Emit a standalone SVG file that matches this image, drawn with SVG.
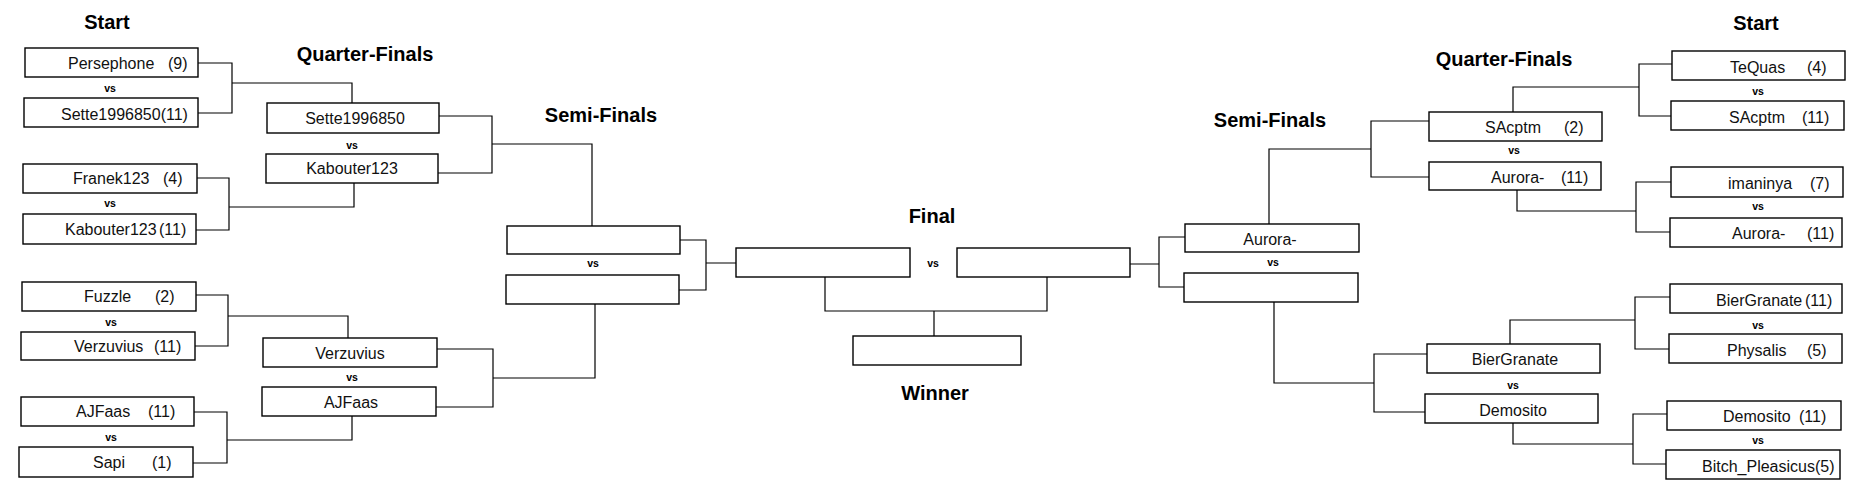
<svg xmlns="http://www.w3.org/2000/svg" width="1873" height="487" viewBox="0 0 1873 487">
<style>
.bg{fill:#fff}
.box{fill:#fff;stroke:#000;stroke-width:1.4}
.con{fill:none;stroke:#000;stroke-width:1.2}
.nm{font-family:"Liberation Sans",Arial,sans-serif;font-size:16px;fill:#111}
.nc{font-family:"Liberation Sans",Arial,sans-serif;font-size:16px;fill:#111;text-anchor:middle}
.vs{font-family:"Liberation Sans",Arial,sans-serif;font-size:10.5px;font-weight:bold;fill:#000;text-anchor:middle}
.hd{font-family:"Liberation Sans",Arial,sans-serif;font-size:20px;font-weight:bold;fill:#000;text-anchor:middle}
</style>
<rect class="bg" x="0" y="0" width="1873" height="487"/>
<g id="headings">
<text class="hd" x="107" y="29">Start</text>
<text class="hd" x="365" y="61">Quarter-Finals</text>
<text class="hd" x="601" y="122">Semi-Finals</text>
<text class="hd" x="932" y="223">Final</text>
<text class="hd" x="935" y="400">Winner</text>
<text class="hd" x="1270" y="127">Semi-Finals</text>
<text class="hd" x="1504" y="66">Quarter-Finals</text>
<text class="hd" x="1756" y="30">Start</text>
</g>
<g id="connectors">
<path class="con" d="M198 63H232V113H198M232 83H352V103"/>
<path class="con" d="M197 178H229V230H196M229 207H354V183"/>
<path class="con" d="M196 295H228V346H195M228 316H348V338"/>
<path class="con" d="M194 412H227V463H193M227 440H352V416"/>
<path class="con" d="M439 116H492V173H438M492 144H592V226"/>
<path class="con" d="M437 349H493V407H436M493 378H595V304"/>
<path class="con" d="M680 240H706V290H679M706 263H736"/>
<path class="con" d="M825 277V311H1047V277M934 311V336"/>
<path class="con" d="M1130 264H1159M1185 237H1159V287H1184"/>
<path class="con" d="M1269 224V149H1371M1429 121H1371V177H1429"/>
<path class="con" d="M1274 302V383H1374M1427 354H1374V412H1425"/>
<path class="con" d="M1513 112V87H1639M1672 64H1639V116H1671"/>
<path class="con" d="M1517 190V211H1636M1671 182H1636V232H1670"/>
<path class="con" d="M1510 344V320H1635M1670 297H1635V349H1669"/>
<path class="con" d="M1513 423V444H1633M1667 414H1633V464H1666"/>
</g>
<g id="vs-labels">
<text class="vs" x="110" y="92">vs</text>
<text class="vs" x="110" y="207">vs</text>
<text class="vs" x="111" y="326">vs</text>
<text class="vs" x="111" y="441">vs</text>
<text class="vs" x="352" y="149">vs</text>
<text class="vs" x="352" y="381">vs</text>
<text class="vs" x="593" y="267">vs</text>
<text class="vs" x="933" y="267">vs</text>
<text class="vs" x="1273" y="266">vs</text>
<text class="vs" x="1514" y="154">vs</text>
<text class="vs" x="1513" y="389">vs</text>
<text class="vs" x="1758" y="95">vs</text>
<text class="vs" x="1758" y="210">vs</text>
<text class="vs" x="1758" y="329">vs</text>
<text class="vs" x="1758" y="444">vs</text>
</g>
<g id="persephone"><rect class="box" x="25" y="48" width="173" height="29"/><text class="nm" y="69"><tspan x="68">Persephone</tspan><tspan x="168">(9)</tspan></text></g>
<g id="sette-r1"><rect class="box" x="24" y="98" width="174" height="29"/><text class="nm" x="61" y="120">Sette1996850(11)</text></g>
<g id="franek"><rect class="box" x="23" y="164" width="174" height="29"/><text class="nm" y="184"><tspan x="73">Franek123</tspan><tspan x="163">(4)</tspan></text></g>
<g id="kabouter-r1"><rect class="box" x="23" y="214" width="173" height="30"/><text class="nm" y="235"><tspan x="65">Kabouter123</tspan><tspan x="159">(11)</tspan></text></g>
<g id="fuzzle"><rect class="box" x="22" y="282" width="174" height="29"/><text class="nm" y="302"><tspan x="84">Fuzzle</tspan><tspan x="155">(2)</tspan></text></g>
<g id="verzuvius-r1"><rect class="box" x="21" y="332" width="174" height="28"/><text class="nm" y="352"><tspan x="74">Verzuvius</tspan><tspan x="154">(11)</tspan></text></g>
<g id="ajfaas-r1"><rect class="box" x="21" y="397" width="173" height="29"/><text class="nm" y="417"><tspan x="76">AJFaas</tspan><tspan x="148">(11)</tspan></text></g>
<g id="sapi"><rect class="box" x="19" y="447" width="174" height="30"/><text class="nm" y="468"><tspan x="93">Sapi</tspan><tspan x="152">(1)</tspan></text></g>
<g id="sette-qf"><rect class="box" x="267" y="103" width="172" height="30"/><text class="nc" x="355" y="124">Sette1996850</text></g>
<g id="kabouter-qf"><rect class="box" x="266" y="154" width="172" height="29"/><text class="nc" x="352" y="174">Kabouter123</text></g>
<g id="verzuvius-qf"><rect class="box" x="263" y="338" width="174" height="29"/><text class="nc" x="350" y="359">Verzuvius</text></g>
<g id="ajfaas-qf"><rect class="box" x="262" y="387" width="174" height="29"/><text class="nc" x="351" y="408">AJFaas</text></g>
<g id="sf-left-1"><rect class="box" x="507" y="226" width="173" height="28"/></g>
<g id="sf-left-2"><rect class="box" x="506" y="275" width="173" height="29"/></g>
<g id="final-left"><rect class="box" x="736" y="248" width="174" height="29"/></g>
<g id="final-right"><rect class="box" x="957" y="248" width="173" height="29"/></g>
<g id="winner"><rect class="box" x="853" y="336" width="168" height="29"/></g>
<g id="sf-right-1"><rect class="box" x="1185" y="224" width="174" height="28"/><text class="nc" x="1270" y="245">Aurora-</text></g>
<g id="sf-right-2"><rect class="box" x="1184" y="273" width="174" height="29"/></g>
<g id="sacptm-qf"><rect class="box" x="1429" y="112" width="173" height="29"/><text class="nm" y="133"><tspan x="1485">SAcptm</tspan><tspan x="1564">(2)</tspan></text></g>
<g id="aurora-qf"><rect class="box" x="1429" y="162" width="172" height="28"/><text class="nm" y="183"><tspan x="1491">Aurora-</tspan><tspan x="1561">(11)</tspan></text></g>
<g id="biergranate-qf"><rect class="box" x="1427" y="344" width="173" height="29"/><text class="nc" x="1515" y="365">BierGranate</text></g>
<g id="demosito-qf"><rect class="box" x="1425" y="394" width="173" height="29"/><text class="nc" x="1513" y="416">Demosito</text></g>
<g id="tequas"><rect class="box" x="1672" y="51" width="173" height="29"/><text class="nm" y="73"><tspan x="1730">TeQuas</tspan><tspan x="1807">(4)</tspan></text></g>
<g id="sacptm-r1"><rect class="box" x="1671" y="101" width="173" height="29"/><text class="nm" y="123"><tspan x="1729">SAcptm</tspan><tspan x="1802">(11)</tspan></text></g>
<g id="imaninya"><rect class="box" x="1671" y="167" width="172" height="30"/><text class="nm" y="189"><tspan x="1728">imaninya</tspan><tspan x="1810">(7)</tspan></text></g>
<g id="aurora-r1"><rect class="box" x="1670" y="218" width="172" height="29"/><text class="nm" y="239"><tspan x="1732">Aurora-</tspan><tspan x="1807">(11)</tspan></text></g>
<g id="biergranate-r1"><rect class="box" x="1670" y="284" width="172" height="29"/><text class="nm" y="306"><tspan x="1716">BierGranate</tspan><tspan x="1805">(11)</tspan></text></g>
<g id="physalis"><rect class="box" x="1669" y="334" width="173" height="29"/><text class="nm" y="356"><tspan x="1727">Physalis</tspan><tspan x="1807">(5)</tspan></text></g>
<g id="demosito-r1"><rect class="box" x="1667" y="401" width="174" height="29"/><text class="nm" y="422"><tspan x="1723">Demosito</tspan><tspan x="1799">(11)</tspan></text></g>
<g id="bitch-pleasicus"><rect class="box" x="1666" y="450" width="174" height="29"/><text class="nm" y="472"><tspan x="1702">Bitch_Pleasicus</tspan><tspan x="1815">(5)</tspan></text></g>
</svg>
